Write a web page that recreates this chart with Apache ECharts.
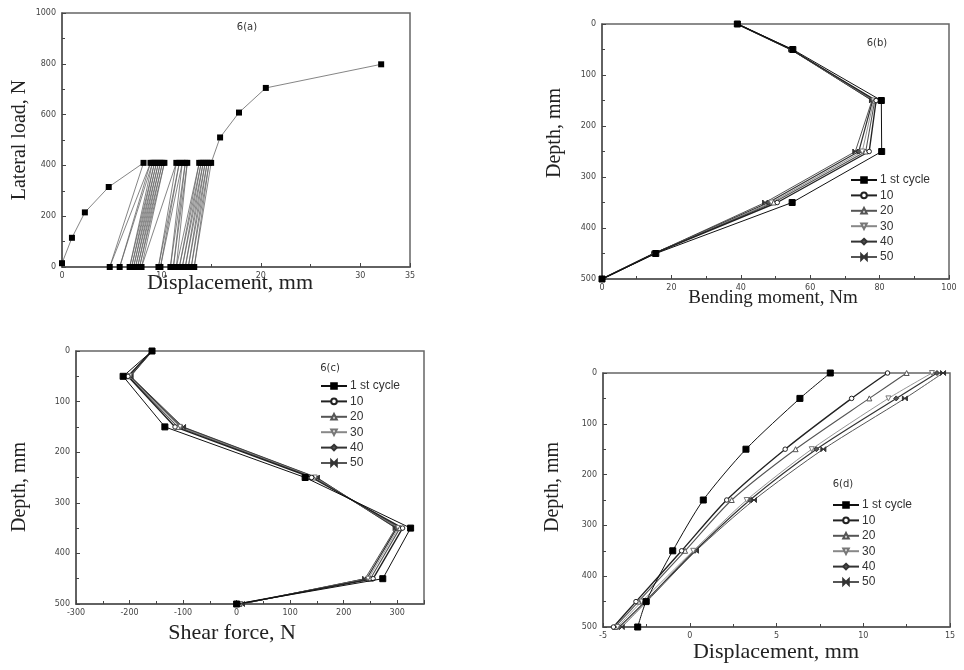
<!DOCTYPE html>
<html>
<head>
<meta charset="utf-8">
<script src="https://cdn.jsdelivr.net/npm/echarts@6/dist/echarts.min.js"></script>
<style>
  html, body { margin: 0; padding: 0; background: #fff; }
  #chart { width: 964px; height: 670px; }
</style>
</head>
<body>
<div id="chart"></div>
<script>
// ---- 6(a): lateral load vs pile-head displacement ----
const backboneDisp = [0, 1.0, 2.3, 4.7];
const backboneLoad = [15, 115, 215, 315];
const cyclicLoad = 410;
const cycleTopDisp = [8.2, 8.9, 9.1, 9.3, 9.5, 9.7, 9.9, 10.1, 10.3, 11.5, 11.8, 12.1, 12.4, 12.6,
                      13.8, 14.0, 14.2, 14.4, 14.6, 14.8, 15.0];
const cycleBottomDisp = [4.8, 5.8, 6.8, 7.0, 7.2, 7.4, 7.6, 7.8, 8.0, 9.7, 9.9, 10.9, 11.2, 11.5,
                         11.8, 12.1, 12.4, 12.7, 13.0, 13.3];
const postDisp = [15.9, 17.8, 20.5, 32.1];
const postLoad = [510, 608, 705, 798];

// ---- shared depth stations for 6(b)-(d) ----
const depths = [0, 50, 150, 250, 350, 450, 500];
const cycleNames = ['1 st cycle', '10', '20', '30', '40', '50'];

// ---- 6(b): bending moment, Nm ----
const momentC1  = [39, 55.0, 80.5, 80.6, 54.8, 15.5, 0];
const momentC10 = [39, 54.5, 79.0, 77.0, 50.5, 15.0, 0];
const momentC20 = [39, 54.5, 78.6, 76.0, 49.5, 15.0, 0];
const momentC30 = [39, 54.5, 78.3, 75.0, 48.8, 15.0, 0];
const momentC40 = [39, 54.5, 78.0, 74.0, 48.0, 15.0, 0];
const momentC50 = [39, 54.5, 77.8, 73.0, 47.0, 15.0, 0];

// ---- 6(c): shear force, N ----
const shearC1  = [-158, -212, -134, 128, 325, 273, 0];
const shearC10 = [-158, -203, -115, 140, 310, 255, 3];
const shearC20 = [-158, -202, -110, 143, 305, 250, 5];
const shearC30 = [-158, -200, -106, 146, 302, 246, 7];
const shearC40 = [-158, -199, -103, 148, 299, 243, 8];
const shearC50 = [-158, -198, -100, 150, 297, 240, 10];

// ---- 6(d): displacement along the pile, mm ----
const dispC1  = [8.1, 6.35, 3.24, 0.78, -0.98, -2.52, -3.0];
const dispC10 = [11.4, 9.33, 5.5, 2.13, -0.47, -3.1, -4.4];
const dispC20 = [12.5, 10.35, 6.1, 2.42, -0.27, -2.96, -4.3];
const dispC30 = [13.96, 11.45, 7.03, 3.28, 0.2, -2.77, -4.17];
const dispC40 = [14.25, 11.9, 7.3, 3.47, 0.3, -2.58, -4.06];
const dispC50 = [14.6, 12.4, 7.7, 3.7, 0.36, -2.48, -3.92];

// loading path: backbone, then unload/reload cycles at constant load, then final push
const loadPath = [];
backboneDisp.forEach((d, i) => loadPath.push([d, backboneLoad[i]]));
cycleTopDisp.forEach((d, i) => {
  loadPath.push([d, cyclicLoad]);
  if (i < cycleBottomDisp.length) loadPath.push([cycleBottomDisp[i], 0]);
});
postDisp.forEach((d, i) => loadPath.push([d, postLoad[i]]));

// marker / line style per cycle
const styles = {
  '1 st cycle': { symbol: 'rect', size: 6, fill: '#000', border: '#000', line: '#111', width: 1.0 },
  '10': { symbol: 'circle', size: 4.5, fill: '#fff', border: '#222', line: '#222', width: 1.4 },
  '20': { symbol: 'triangle', size: 5, fill: '#fff', border: '#555', line: '#555', width: 1.1 },
  '30': { symbol: 'path://M0,0 L10,0 L5,10 Z', size: 5, fill: '#fff', border: '#777', line: '#888', width: 0.9 },
  '40': { symbol: 'diamond', size: 5, fill: '#555', border: '#333', line: '#333', width: 1.2 },
  '50': { symbol: 'path://M0,0 L10,10 L10,0 L0,10 Z', size: 5, fill: '#333', border: '#333', line: '#555', width: 1.0 }
};

function profileSeries(name, values, gi, smooth) {
  const s = styles[name];
  return {
    name: name, type: 'line', xAxisIndex: gi, yAxisIndex: gi,
    data: values.map((v, i) => [v, depths[i]]),
    smooth: smooth || false,
    symbol: s.symbol, symbolSize: s.size, showAllSymbol: true,
    lineStyle: { color: s.line, width: s.width },
    itemStyle: { color: s.fill, borderColor: s.border, borderWidth: 1 },
    z: name === '1 st cycle' ? 5 : 3
  };
}

const tickFont = { fontSize: 8, color: '#444', fontFamily: 'DejaVu Sans', formatter: v => String(v) };

function xAx(gi, min, max, interval, extra) {
  return Object.assign({
    type: 'value', gridIndex: gi, min: min, max: max, interval: interval,
    axisLine: { show: true, onZero: false, lineStyle: { color: '#555', width: 1.5 } },
    axisTick: { show: true, inside: true, length: 4, lineStyle: { color: '#444' } },
    minorTick: { show: true, splitNumber: 2, length: 3, lineStyle: { color: '#444' } },
    splitLine: { show: false },
    axisLabel: Object.assign({ margin: 5 }, tickFont)
  }, extra || {});
}
function yAx(gi, min, max, interval, extra) {
  return Object.assign({
    type: 'value', gridIndex: gi, min: min, max: max, interval: interval,
    axisLine: { show: true, onZero: false, lineStyle: { color: '#555', width: 1.5 } },
    axisTick: { show: true, inside: true, length: 4, lineStyle: { color: '#444' } },
    minorTick: { show: true, splitNumber: 2, length: 3, lineStyle: { color: '#444' } },
    splitLine: { show: false },
    axisLabel: Object.assign({ margin: 6 }, tickFont)
  }, extra || {});
}

const grids = [
  { left: 62, top: 13, width: 348, height: 254 },
  { left: 602, top: 24, width: 347, height: 255 },
  { left: 76, top: 351, width: 348, height: 253 },
  { left: 603, top: 373, width: 347, height: 254 }
].map(g => Object.assign({ show: true, borderColor: '#666', borderWidth: 1.5, backgroundColor: '#fff' }, g));

const series = [
  {
    name: 'load path', type: 'line', xAxisIndex: 0, yAxisIndex: 0,
    data: loadPath, symbol: 'rect', symbolSize: 6, showAllSymbol: true,
    lineStyle: { color: '#666', width: 0.8 },
    itemStyle: { color: '#000' }
  }
];
const bSets = [momentC1, momentC10, momentC20, momentC30, momentC40, momentC50];
const cSets = [shearC1, shearC10, shearC20, shearC30, shearC40, shearC50];
const dSets = [dispC1, dispC10, dispC20, dispC30, dispC40, dispC50];
// draw later cycles first so the first-cycle markers sit on top
for (let k = cycleNames.length - 1; k >= 0; k--) series.push(profileSeries(cycleNames[k], bSets[k], 1));
for (let k = cycleNames.length - 1; k >= 0; k--) series.push(profileSeries(cycleNames[k], cSets[k], 2));
for (let k = cycleNames.length - 1; k >= 0; k--) series.push(profileSeries(cycleNames[k], dSets[k], 3, 0.25));

function legendAt(left, top) {
  return {
    data: cycleNames, orient: 'vertical', left: left, top: top,
    itemWidth: 26, itemHeight: 7, itemGap: 3.4, padding: 0,
    textStyle: { fontSize: 12, color: '#333', fontFamily: 'Liberation Sans', padding: [0, 0, 0, -2] },
    selectedMode: false
  };
}

const serif = 'Liberation Serif';
function label(text, x, y, size, rotate) {
  return {
    type: 'text', x: x, y: y, rotation: rotate ? Math.PI / 2 : 0,
    style: { text: text, font: size + 'px "' + serif + '"', fill: '#222', align: 'center', verticalAlign: 'middle' }
  };
}
function tag(text, x, y) {
  return {
    type: 'text', x: x, y: y,
    style: { text: text, font: '10px "DejaVu Sans"', fill: '#333', align: 'center', verticalAlign: 'middle' }
  };
}

const option = {
  animation: false,
  backgroundColor: '#fff',
  grid: grids,
  xAxis: [
    xAx(0, 0, 35, 10),
    xAx(1, 0, 100, 20),
    xAx(2, -300, 350, 100, { axisLabel: Object.assign({ margin: 5, showMaxLabel: false }, tickFont) }),
    xAx(3, -5, 15, 5)
  ],
  yAxis: [
    yAx(0, 0, 1000, 200),
    yAx(1, 0, 500, 100, { inverse: true }),
    yAx(2, 0, 500, 100, { inverse: true }),
    yAx(3, 0, 500, 100, { inverse: true })
  ],
  legend: [legendAt(850, 174), legendAt(320, 380), legendAt(832, 499)],
  series: series,
  graphic: [
    label('Lateral load, N', 20, 140, 20, true),
    label('Displacement, mm', 230, 283, 22),
    label('Depth, mm', 555, 133, 20, true),
    label('Bending moment, Nm', 773, 298, 19),
    label('Depth, mm', 20, 487, 20, true),
    label('Shear force, N', 232, 633, 22),
    label('Depth, mm', 553, 487, 20, true),
    label('Displacement, mm', 776, 652, 22),
    tag('6(a)', 247, 27),
    tag('6(b)', 877, 43),
    tag('6(c)', 330, 368),
    tag('6(d)', 843, 484)
  ]
};

const chart = echarts.init(document.getElementById('chart'), null, { renderer: 'canvas' });
chart.setOption(option);
</script>
</body>
</html>
